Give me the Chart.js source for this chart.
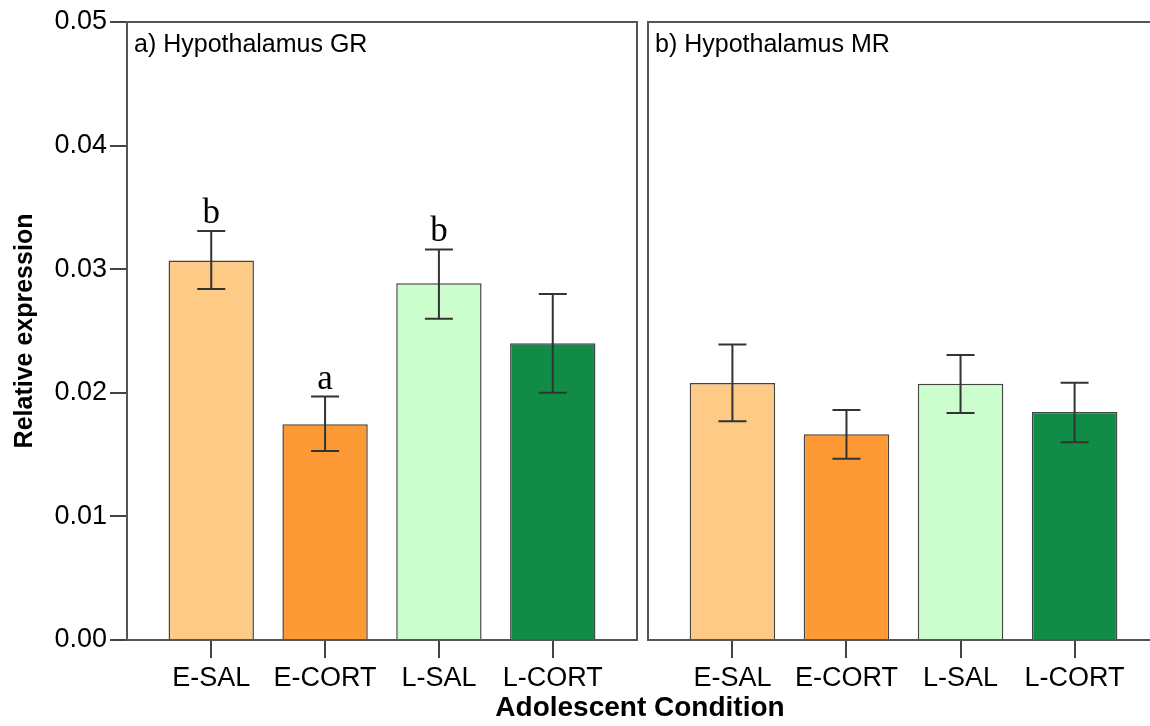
<!DOCTYPE html>
<html>
<head>
<meta charset="utf-8">
<script src="https://cdn.jsdelivr.net/npm/chart.js@4.4.1/dist/chart.umd.min.js"></script>
<style>
  html, body { margin: 0; padding: 0; overflow: hidden; background: #fff; width: 1150px; height: 726px; }
  #izq { position: absolute; left: 0; top: 0; }
  #der { position: absolute; left: 642px; top: 0; }
  #tituloX {
    position: absolute; left: 440px; width: 400px; top: 691px;
    text-align: center; line-height: 28px;
    font: bold 28px "Liberation Sans", Arial, sans-serif; color: #000;
  }
</style>
</head>
<body>
<canvas id="izq" width="642" height="726"></canvas>
<canvas id="der" width="524" height="726"></canvas>
<div id="tituloX">Adolescent Condition</div>
<script>
// Datos
const categorias = ['E-SAL', 'E-CORT', 'L-SAL', 'L-CORT'];
const colores = ['#fdcb85', '#fd9a36', '#ccfdcc', '#118c47'];

const grMedia = [0.0307, 0.01745, 0.02886, 0.0240];
const grBajo = [0.0284, 0.0153, 0.0260, 0.0200];
const grAlto = [0.0331, 0.0197, 0.0316, 0.0280];
const grLetras = ['b', 'a', 'b', ''];

const mrMedia = [0.0208, 0.01664, 0.02074, 0.01845];
const mrBajo = [0.0177, 0.01467, 0.01837, 0.0160];
const mrAlto = [0.0239, 0.01861, 0.02306, 0.02082];
const mrLetras = ['', '', '', ''];

const yMin = 0, yMax = 0.05, yPaso = 0.01;

const fuente = '"Liberation Sans", Arial, sans-serif';

function crearPanel(idCanvas, titulo, medias, bajos, altos, letras, conEjeY) {
    const ctxCanvas = document.getElementById(idCanvas).getContext('2d');

    // barras de error, letras, marco y titulo del panel
    const extras = {
        id: 'extras' + idCanvas,
        afterDatasetsDraw(chart) {
            const ctx = chart.ctx;
            const ejeY = chart.scales.y;
            const meta = chart.getDatasetMeta(0);
            ctx.save();
            ctx.strokeStyle = '#333';
            ctx.lineWidth = 2;
            meta.data.forEach((barra, i) => {
                const x = barra.x;
                const yA = ejeY.getPixelForValue(altos[i]);
                const yB = ejeY.getPixelForValue(bajos[i]);
                ctx.beginPath();
                ctx.moveTo(x, yA); ctx.lineTo(x, yB);
                ctx.moveTo(x - 14, yA); ctx.lineTo(x + 14, yA);
                ctx.moveTo(x - 14, yB); ctx.lineTo(x + 14, yB);
                ctx.stroke();
                if (letras[i]) {
                    ctx.fillStyle = '#000';
                    ctx.font = '35px "Liberation Serif", "Times New Roman", serif';
                    ctx.textAlign = 'center';
                    ctx.textBaseline = 'alphabetic';
                    ctx.fillText(letras[i], x, yA - 8);
                }
            });
            ctx.restore();
        },
        afterDraw(chart) {
            const ctx = chart.ctx;
            const a = chart.chartArea;
            ctx.save();
            ctx.strokeStyle = '#555';
            ctx.lineWidth = 2;
            ctx.strokeRect(a.left, a.top, a.right - a.left, a.bottom - a.top);
            ctx.fillStyle = '#000';
            ctx.font = '25px ' + fuente;
            ctx.textAlign = 'left';
            ctx.textBaseline = 'alphabetic';
            ctx.fillText(titulo, a.left + 7, a.top + 30);
            ctx.restore();
        }
    };

    return new Chart(ctxCanvas, {
        type: 'bar',
        data: {
            datasets: [{
                data: medias.map((v, i) => ({ x: i, y: v })),
                backgroundColor: colores,
                borderColor: '#444',
                borderWidth: 1.5,
                barPercentage: 0.75,
                categoryPercentage: 1
            }]
        },
        options: {
            responsive: false,
            animation: false,
            layout: {
                padding: conEjeY ? { left: 0, right: 5, top: 22, bottom: 0 }
                                 : { left: 6, right: 7, top: 22, bottom: 0 }
            },
            scales: {
                x: {
                    type: 'linear',
                    offset: false,
                    min: -0.74,
                    max: 3.74,
                    afterBuildTicks: (eje) => { eje.ticks = categorias.map((c, i) => ({ value: i })); },
                    afterFit: (eje) => { eje.height = 86; },
                    ticks: {
                        autoSkip: false,
                        maxRotation: 0,
                        color: '#000',
                        padding: 4,
                        font: { family: fuente, size: 27 },
                        callback: (v) => categorias[v]
                    },
                    grid: { display: true, offset: false, drawOnChartArea: false, tickLength: 18, color: '#444', lineWidth: 2 },
                    border: { display: true, color: '#444', width: 2 }
                },
                y: {
                    display: conEjeY,
                    min: yMin,
                    max: yMax,
                    afterFit: (eje) => { eje.width = conEjeY ? 127 : 0; },
                    ticks: {
                        stepSize: yPaso,
                        color: '#000',
                        padding: 3,
                        font: { family: fuente, size: 27 },
                        callback: (v) => v.toFixed(2)
                    },
                    grid: { display: true, drawOnChartArea: false, tickLength: 17, color: '#444', lineWidth: 2 },
                    border: { display: true, color: '#444', width: 2 },
                    title: {
                        display: true,
                        text: 'Relative expression',
                        color: '#000',
                        font: { family: fuente, size: 25, weight: 'bold' },
                        padding: { top: 10, bottom: 0 }
                    }
                }
            },
            plugins: {
                legend: { display: false },
                tooltip: { enabled: false }
            }
        },
        plugins: [extras]
    });
}

crearPanel('izq', 'a) Hypothalamus GR', grMedia, grBajo, grAlto, grLetras, true);
crearPanel('der', 'b) Hypothalamus MR', mrMedia, mrBajo, mrAlto, mrLetras, false);
</script>
</body>
</html>
